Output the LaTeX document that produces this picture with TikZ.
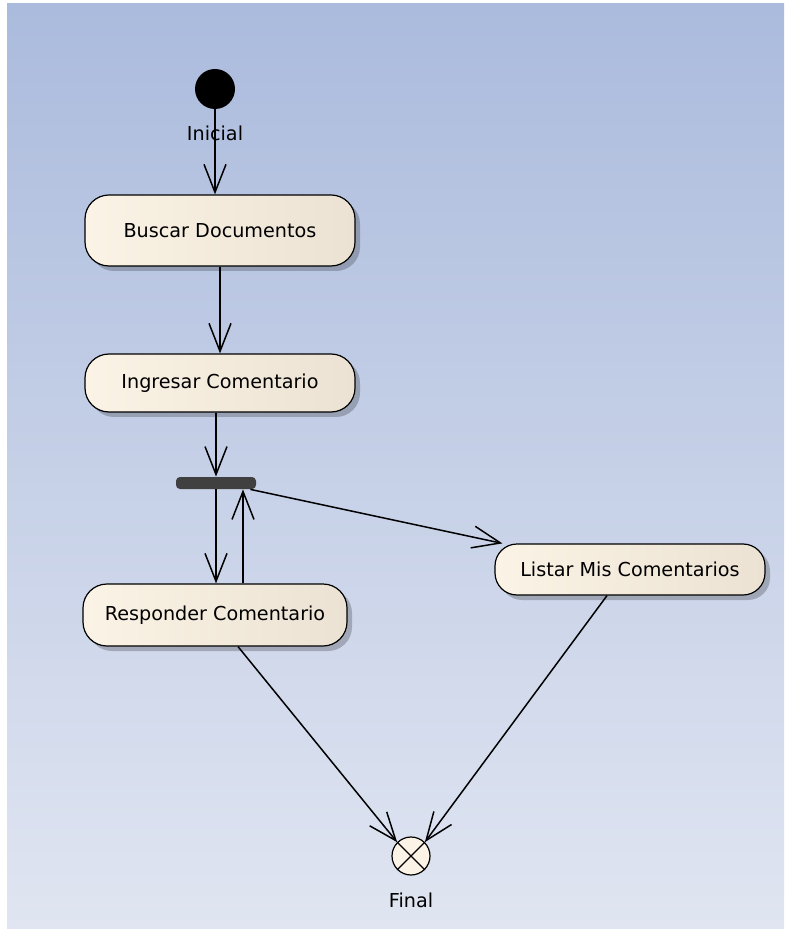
\documentclass[tikz,border=0pt]{standalone}
\usepackage{fontspec}
\setmainfont{DejaVu Sans}
\usetikzlibrary{arrows.meta,shadows}
\definecolor{bgtop}{HTML}{ABBBDD}
\definecolor{bgbot}{HTML}{E0E5F1}
\definecolor{cream}{HTML}{FBF3E5}
\definecolor{creamdark}{HTML}{EBE2D3}
\definecolor{bardark}{HTML}{404040}
\begin{document}
\begin{tikzpicture}[x=0.5pt,y=-0.5pt]

   \tikzset{act/.style={draw=black, line width=0.6pt, rounded corners=12pt,
      left color=cream, right color=creamdark, inner sep=0pt,
      drop shadow={shadow xshift=2.5pt, shadow yshift=-2.5pt, fill=black, opacity=0.22},
      font=\fontsize{9.6}{11}\selectfont}}
   \tikzset{lbl/.style={inner sep=0pt, font=\fontsize{9.6}{11}\selectfont}}
   \tikzset{flow/.style={draw=black, line width=0.75pt, -{Straight Barb[length=14pt,width=11pt]}}}

    \useasboundingbox (0,0) rectangle (784,929);
    \fill[white] (0,0) rectangle (784,929);
    \shade[top color=bgtop, bottom color=bgbot] (7,4) rectangle (784,929);

     \node[circle, fill=black, minimum size=20pt, inner sep=0pt] (ini) at (215,89) {};
      \node[lbl] (inilbl) at (215,133) {Inicial};
       \node[act, minimum width=135pt, minimum height=35.5pt] (buscar) at (220,230.5) {Buscar Documentos};
        \node[act, minimum width=135pt, minimum height=29pt] (ingresar) at (220,383) {Ingresar Comentario};
         \node[fill=bardark, rounded corners=2pt, minimum width=40pt, minimum height=6pt, inner sep=0pt] (bar) at (216,483) {};
          \node[act, minimum width=132pt, minimum height=31pt] (responder) at (215,615) {Responder Comentario};
           \node[act, rounded corners=11pt, minimum width=135pt, minimum height=25.5pt] (listar) at (630,569.5) {Listar Mis Comentarios};
            \node[circle, draw=black, line width=0.6pt, fill=cream, minimum size=19pt, inner sep=0pt] (fin) at (411,856) {};
             \node[lbl] (finlbl) at (411,900) {Final};

      \coordinate (barup) at ([xshift=13.5pt]bar.south);
      \coordinate (barout) at ([xshift=-3pt]bar.south east);
      \coordinate (listin) at ([xshift=4pt]listar.north west);
      \coordinate (respout) at ([xshift=11.5pt]responder.south);
      \coordinate (listout) at ([xshift=-11.5pt]listar.south);

    \draw[line width=0.6pt] (fin.45) -- (fin.225);
    \draw[line width=0.6pt] (fin.135) -- (fin.-45);

    \draw[flow] (ini) -- (ini |- buscar.north);
    \draw[flow] (buscar) -- (ingresar);
    \draw[flow] (bar |- ingresar.south) -- (bar.north);
    \draw[flow] (bar.south) -- (bar.south |- responder.north);
    \draw[flow] (barup |- responder.north) -- (barup);
    \draw[flow] (barout) -- (listin);
    \draw[flow] (respout) -- (fin.135);
    \draw[flow] (listout) -- (fin.45);

\end{tikzpicture}
\end{document}
